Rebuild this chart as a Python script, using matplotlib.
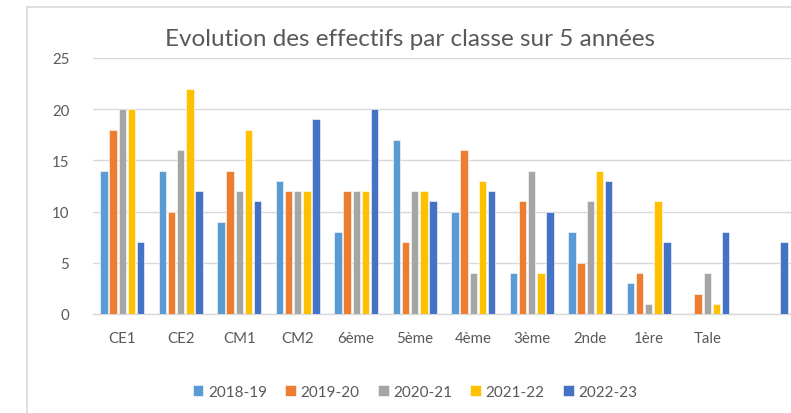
import matplotlib
matplotlib.use("Agg")
import matplotlib.pyplot as plt
import numpy as np
from matplotlib.patches import Rectangle

categories = ["CE1", "CE2", "CM1", "CM2", "6ème", "5ème", "4ème", "3ème", "2nde", "1ère", "Tale", ""]
series_names = ["2018-19", "2019-20", "2020-21", "2021-22", "2022-23"]
v2018 = [14, 14, 9, 13, 8, 17, 10, 4, 8, 3, 0, 0]
v2019 = [18, 10, 14, 12, 12, 7, 16, 11, 5, 4, 2, 0]
v2020 = [20, 16, 12, 12, 12, 12, 4, 14, 11, 1, 4, 0]
v2021 = [20, 22, 18, 12, 12, 12, 13, 4, 14, 11, 1, 0]
v2022 = [7, 12, 11, 19, 20, 11, 12, 10, 13, 7, 8, 7]
yticks = [0, 5, 10, 15, 20, 25]
title = "Evolution des effectifs par classe sur 5 années"

colors = ["#5B9BD5", "#ED7D31", "#A5A5A5", "#FFC000", "#4472C4"]
values = [v2018, v2019, v2020, v2021, v2022]

plt.rcParams['font.family'] = ['Lato', 'DejaVu Sans']
fig = plt.figure(figsize=(7.91, 4.14), dpi=100)

# chart frame
fig.patches.append(Rectangle((27/791, -0.1), 1.2, 1 - 8/414 + 0.1, transform=fig.transFigure,
                             fill=False, edgecolor="#D9D9D9", linewidth=1.2, zorder=0))

ax = fig.add_axes([93/791, 1 - 315/414, (795 - 93)/791, (315 - 59)/414])
x = np.arange(len(categories))
slot = 0.156
bw = 0.128
for i, (name, vals, c) in enumerate(zip(series_names, values, colors)):
    ax.bar(x + (i - 2) * slot, vals, width=bw, color=c, label=name,
           edgecolor="white", linewidth=0.4, zorder=3)

ax.set_xlim(-0.5, len(categories) - 0.5)
ax.set_ylim(0, 25)
ax.set_yticks(yticks)
ax.set_xticks(x)
ax.set_xticklabels(categories)
ax.tick_params(axis="both", length=0, labelsize=10.8, colors="#595959")
ax.tick_params(axis="x", pad=12)
ax.tick_params(axis="y", pad=17)
ax.grid(axis="y", color="#D9D9D9", linewidth=1, zorder=0)
for s in ["top", "right", "left"]:
    ax.spines[s].set_visible(False)
ax.spines["bottom"].set_color("#D9D9D9")
ax.spines["bottom"].set_linewidth(1)

fig.text(410/791, 1 - 40/414, title, ha="center", va="center", fontsize=17.5, color="#595959")

handles, labels = ax.get_legend_handles_labels()
leg = fig.legend(handles, labels, loc="center", bbox_to_anchor=(415/791, 1 - 393/414), ncol=5,
                 frameon=False, fontsize=11, handlelength=0.7, handleheight=0.7,
                 handletextpad=0.3, columnspacing=1.2, labelcolor="#595959")

fig.savefig("out.png", dpi=100)
